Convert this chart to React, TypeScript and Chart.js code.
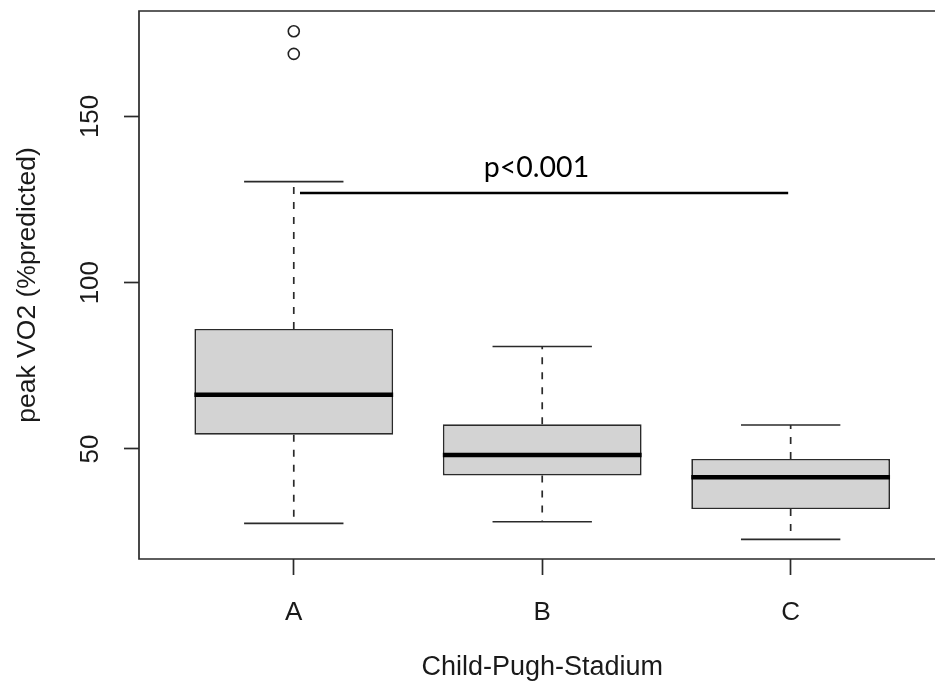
import React, { useEffect, useRef } from 'react';
import { Chart, registerables } from 'chart.js';

Chart.register(...registerables);

// ---- data ----
const categories = ['A', 'B', 'C'];
const positions = [1, 2, 3];
const whiskerLow = [27.6, 28.1, 22.8];
const q1 = [54.3, 42.0, 31.9];
const median = [66.3, 48.2, 41.5];
const q3 = [86.1, 57.4, 47.0];
const whiskerHigh = [130.4, 80.8, 57.2];
const outlierGroup = [1, 1];
const outlierValues = [168.8, 175.6];
const yTicks = [50, 100, 150];
const sigFrom = 1.025;
const sigTo = 2.99;
const sigLevel = 127;
const sigLabel = 'p<0.001';
const sigLabelX = 1.977;
const sigLabelY = 131.9;
const yTitle = 'peak VO2 (%predicted)';
const xTitle = 'Child-Pugh-Stadium';
const xTitleCenter = 2;

const FONT = '"Liberation Sans", Arial, Helvetica, sans-serif';
const INK = '#1a1a1a';
const LINE = '#2a2a2a';
const LW = 1.7;
const BOX_HALF = 0.4;
const STAPLE_HALF = 0.2;
const W = 935;
const H = 693;

export default function App() {
  const ref = useRef<HTMLCanvasElement | null>(null);

  useEffect(() => {
    if (!ref.current) return;

    const datasets: any[] = [];
    datasets.push({
      type: 'bar',
      data: positions.map((p, i) => ({ x: p, y: [q1[i], q3[i]] })),
      backgroundColor: '#d3d3d3',
      borderColor: LINE,
      borderWidth: LW,
      borderSkipped: false,
      barPercentage: 0.8,
      categoryPercentage: 1,
      order: 10,
    });
    const seg = (pts: { x: number; y: number }[], extra: any = {}) => ({
      type: 'line',
      data: pts,
      borderColor: LINE,
      borderWidth: LW,
      pointRadius: 0,
      fill: false,
      order: 1,
      ...extra,
    });
    positions.forEach((p, i) => {
      datasets.push(seg([{ x: p, y: q3[i] }, { x: p, y: whiskerHigh[i] }], { borderDash: [7, 8] }));
      datasets.push(seg([{ x: p, y: q1[i] }, { x: p, y: whiskerLow[i] }], { borderDash: [7, 8] }));
      datasets.push(seg([{ x: p - STAPLE_HALF, y: whiskerHigh[i] }, { x: p + STAPLE_HALF, y: whiskerHigh[i] }]));
      datasets.push(seg([{ x: p - STAPLE_HALF, y: whiskerLow[i] }, { x: p + STAPLE_HALF, y: whiskerLow[i] }]));
      datasets.push(
        seg([{ x: p - BOX_HALF, y: median[i] }, { x: p + BOX_HALF, y: median[i] }], {
          borderColor: '#000',
          borderWidth: 4.5,
          borderCapStyle: 'butt',
          order: 0,
        })
      );
    });
    datasets.push({
      type: 'line',
      data: outlierGroup.map((g, i) => ({ x: g, y: outlierValues[i] })),
      showLine: false,
      pointRadius: 5.5,
      pointBorderWidth: 1.6,
      pointBackgroundColor: 'rgba(0,0,0,0)',
      pointBorderColor: '#222',
      order: 1,
    });
    datasets.push(
      seg([{ x: sigFrom, y: sigLevel }, { x: sigTo, y: sigLevel }], { borderColor: '#000', borderWidth: 2.5 })
    );

    const decor = {
      id: 'decor',
      beforeDatasetsDraw(chart: any) {
        const { ctx, chartArea } = chart;
        ctx.save();
        ctx.strokeStyle = LINE;
        ctx.lineWidth = LW;
        ctx.beginPath();
        ctx.moveTo(chartArea.right + 5, chartArea.top);
        ctx.lineTo(chartArea.left, chartArea.top);
        ctx.lineTo(chartArea.left, chartArea.bottom);
        ctx.lineTo(chartArea.right + 5, chartArea.bottom);
        ctx.stroke();
        ctx.restore();
      },
      afterDraw(chart: any) {
        const { ctx, chartArea, scales } = chart;
        const y = scales.y;
        const x = scales.x;
        ctx.save();
        ctx.fillStyle = INK;
        ctx.font = `26px ${FONT}`;
        ctx.textAlign = 'center';
        ctx.textBaseline = 'alphabetic';
        yTicks.forEach((v) => {
          ctx.save();
          ctx.translate(chartArea.left - 41, y.getPixelForValue(v));
          ctx.rotate(-Math.PI / 2);
          ctx.fillText(String(v), 0, 0);
          ctx.restore();
        });
        // x-axis title, centred on the middle of the full plotting range
        ctx.font = `27px ${FONT}`;
        ctx.textBaseline = 'middle';
        ctx.fillText(xTitle, x.getPixelForValue(xTitleCenter), chart.height - 9 - 16.2);
        ctx.textBaseline = 'alphabetic';
        ctx.fillStyle = '#000';
        ctx.font = '28.5px Lato, "Open Sans", sans-serif';
        ctx.fillText(sigLabel, x.getPixelForValue(sigLabelX), y.getPixelForValue(sigLabelY));
        ctx.restore();
      },
    };

    const chart = new Chart(ref.current, {
      type: 'bar',
      data: { datasets },
      plugins: [decor],
      options: {
        animation: false,
        responsive: false,
        devicePixelRatio: 1,
        layout: { autoPadding: false, padding: { top: 11, left: 0, right: 0, bottom: 0 } },
        plugins: { legend: { display: false }, tooltip: { enabled: false } },
        scales: {
          x: {
            type: 'linear',
            min: 0.377,
            max: 3.581,
            offset: false,
            afterBuildTicks: (s: any) => {
              s.ticks = positions.map((v) => ({ value: v }));
            },
            afterFit: (s: any) => {
              s.height = 134;
            },
            grid: {
              offset: false,
              drawOnChartArea: false,
              drawTicks: true,
              tickLength: 16,
              tickColor: LINE,
              tickWidth: LW,
            },
            border: { display: false },
            ticks: {
              autoSkip: false,
              maxRotation: 0,
              minRotation: 0,
              padding: 22,
              color: INK,
              font: { family: FONT, size: 26 },
              callback: (v: any) => {
                const i = positions.indexOf(Number(v));
                return i >= 0 ? categories[i] : '';
              },
            },
            title: { display: false },
          },
          y: {
            type: 'linear',
            min: 16.9,
            max: 181.7,
            afterBuildTicks: (s: any) => {
              s.ticks = yTicks.map((v) => ({ value: v }));
            },
            afterFit: (s: any) => {
              s.width = 139;
            },
            grid: {
              drawOnChartArea: false,
              drawTicks: true,
              tickLength: 15,
              tickColor: LINE,
              tickWidth: LW,
            },
            border: { display: false },
            ticks: { display: false },
            title: {
              display: true,
              text: yTitle,
              color: INK,
              font: { family: FONT, size: 26.5 },
              padding: { top: 12, bottom: 0 },
            },
          },
        },
      } as any,
    });
    return () => chart.destroy();
  }, []);

  return (
    <div style={{ position: 'absolute', left: 0, top: 0, width: W, height: H, background: '#fff' }}>
      <canvas ref={ref} width={W} height={H} style={{ display: 'block', width: W, height: H }} />
    </div>
  );
}
